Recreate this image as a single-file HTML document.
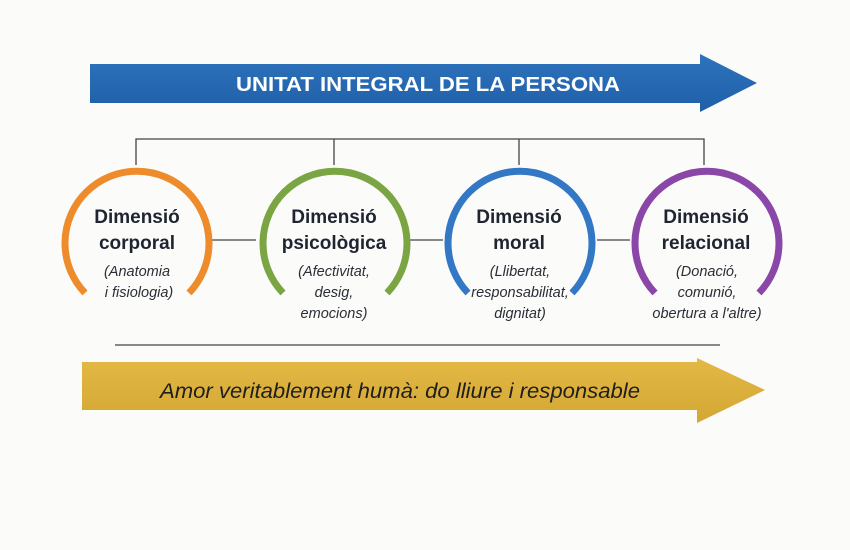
<!DOCTYPE html>
<html><head><meta charset="utf-8"><style>
html,body{margin:0;padding:0;background:#fbfbfa;}
svg{display:block}
text{font-family:"Liberation Sans","DejaVu Sans",sans-serif;}
</style></head><body>
<svg width="850" height="550" viewBox="0 0 850 550" xmlns="http://www.w3.org/2000/svg">
<rect width="850" height="550" fill="#fbfbfa"/>
<defs>
<linearGradient id="bg" x1="0" y1="0" x2="0" y2="1"><stop offset="0" stop-color="#2e73bd"/><stop offset="1" stop-color="#1f5fa8"/></linearGradient>
<linearGradient id="gg" x1="0" y1="0" x2="0" y2="1"><stop offset="0" stop-color="#e3b844"/><stop offset="1" stop-color="#d4a734"/></linearGradient>
</defs>
<polygon points="90,64 700,64 700,54 757,83 700,112 700,103 90,103" fill="url(#bg)"/>
<text x="236" y="91" font-size="20" font-weight="bold" fill="#fff" textLength="384" lengthAdjust="spacingAndGlyphs">UNITAT INTEGRAL DE LA PERSONA</text>
<g stroke="#444" stroke-width="1.3" fill="none">
<polyline points="136,165 136,139 704,139 704,165"/>
<line x1="334" y1="139" x2="334" y2="165"/>
<line x1="519" y1="139" x2="519" y2="165"/>
<line x1="212" y1="240" x2="256" y2="240"/>
<line x1="410" y1="240" x2="443" y2="240"/>
<line x1="597" y1="240" x2="630" y2="240"/>
</g>
<g fill="none" stroke-width="7" stroke-linecap="butt">
<path d="M85,293 A72,72 0 1 1 189,293" stroke="#ee8c2c"/>
<path d="M283,293 A72,72 0 1 1 387,293" stroke="#7aa542"/>
<path d="M468,293 A72,72 0 1 1 572,293" stroke="#3278c4"/>
<path d="M655,293 A72,72 0 1 1 759,293" stroke="#8a47a8"/>
</g>
<g font-size="19" font-weight="bold" fill="#1e2530" text-anchor="middle">
<text x="137" y="223">Dimensió</text><text x="137" y="249">corporal</text>
<text x="334" y="223">Dimensió</text><text x="334" y="249">psicològica</text>
<text x="519" y="223">Dimensió</text><text x="519" y="249">moral</text>
<text x="706" y="223">Dimensió</text><text x="706" y="249">relacional</text>
</g>
<g font-size="14.5" font-style="italic" fill="#2a2e35" text-anchor="middle">
<text x="137" y="276">(Anatomia</text><text x="139" y="297">i fisiologia)</text>
<text x="334" y="276">(Afectivitat,</text><text x="334" y="297">desig,</text><text x="334" y="318">emocions)</text>
<text x="520" y="276">(Llibertat,</text><text x="520" y="297">responsabilitat,</text><text x="520" y="318">dignitat)</text>
<text x="707" y="276">(Donació,</text><text x="707" y="297">comunió,</text><text x="707" y="318">obertura a l'altre)</text>
</g>
<line x1="115" y1="345" x2="720" y2="345" stroke="#444" stroke-width="1.2"/>
<polygon points="82,362 697,362 697,358 765,390 697,423 697,410 82,410" fill="url(#gg)"/>
<text x="160" y="398" font-size="21" font-style="italic" fill="#1e1e1e" textLength="480" lengthAdjust="spacingAndGlyphs">Amor veritablement humà: do lliure i responsable</text>
</svg>
</body></html>
